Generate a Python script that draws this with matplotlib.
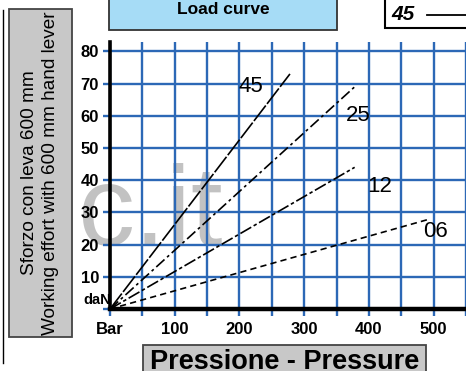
import matplotlib
matplotlib.use("Agg")
import matplotlib.pyplot as plt
from matplotlib.patches import Rectangle
from matplotlib.lines import Line2D

plt.rcParams['font.family'] = ['Liberation Sans', 'DejaVu Sans']
plt.rcParams['lines.scale_dashes'] = False

# ---- data ----
series_names = ["45", "25", "12", "06"]
p45 = [0, 278]; f45 = [0, 73]
p25 = [0, 378]; f25 = [0, 69]
p12 = [0, 378]; f12 = [0, 44]
p06 = [0, 495]; f06 = [0, 28]
label_pos_x = [218, 383, 417, 503]
label_pos_y = [69, 60, 38, 24]
x_ticks = [0, 50, 100, 150, 200, 250, 300, 350, 400, 450, 500, 550]
x_tick_labels = ["Bar", "", "100", "", "200", "", "300", "", "400", "", "500", ""]
y_ticks = [0, 10, 20, 30, 40, 50, 60, 70, 80]
y_tick_labels = ["", "10", "20", "30", "40", "50", "60", "70", "80"]

W, H = 466, 371
def fx(x): return x / W
def fy(y): return 1 - y / H

fig = plt.figure(figsize=(W / 100, H / 100), dpi=100)
ax = fig.add_axes([fx(110), fy(309), (466 - 110) / W, (309 - 42) / H])
ax.set_xlim(0, 356 / 0.65)
ax.set_ylim(0, 267 / 3.22)

blue = '#2c68b6'
ax.set_xticks(x_ticks)
ax.set_xticklabels(x_tick_labels)
ax.set_yticks(y_ticks)
ax.set_yticklabels(y_tick_labels)
ax.grid(True, color=blue, lw=1.7, zorder=1)
ax.set_axisbelow(True)
ax.tick_params(axis='both', color=blue, width=1.7, length=5, labelsize=12)
ax.tick_params(axis='x', pad=4)
ax.tick_params(axis='y', pad=3)
for lab in ax.get_xticklabels() + ax.get_yticklabels():
    lab.set_fontweight('bold')
for s in ['top', 'right']:
    ax.spines[s].set_visible(False)
ax.spines['left'].set_linewidth(2.6)
ax.spines['bottom'].set_linewidth(3.2)
ax.spines['left'].set_zorder(4)
ax.spines['bottom'].set_zorder(4)

# watermark
ax.text(fx(77), fy(245), "c.it", transform=fig.transFigure, fontsize=82,
        color='#a9a9a9', alpha=0.7, ha='left', va='baseline', zorder=0.5,
        clip_on=False)

# curves
ax.plot(p45, f45, color='k', lw=1.2, dashes=(14, 1.5), zorder=3)
ax.plot(p25, f25, color='k', lw=1.2, dashes=(8, 2.5, 2, 2.5), zorder=3)
ax.plot(p12, f12, color='k', lw=1.2, dashes=(9, 2, 2.5, 2), zorder=3)
ax.plot(p06, f06, color='k', lw=1.2, dashes=(4.5, 3), zorder=3)
for name, lx, ly in zip(series_names, label_pos_x, label_pos_y):
    ax.text(lx, ly, name, ha='center', va='center', fontsize=16,
            family=['Liberation Sans Narrow', 'DejaVu Sans Condensed', 'Liberation Sans'],
            zorder=5)

# daN label
ax.text(fx(111), fy(300), "daN", transform=fig.transFigure, ha='right',
        va='center', fontsize=10.5, fontweight='bold', clip_on=False)

# title box
fig.patches.append(Rectangle((fx(109), fy(30)), (337 - 109) / W, 40 / H,
                             transform=fig.transFigure, facecolor='#a6dcf6',
                             edgecolor='#333333', lw=1.3, zorder=5))
fig.text(fx(223), fy(9), "Load curve", ha='center', va='center',
         fontsize=12.5, fontweight='bold', zorder=6)

# legend box
fig.patches.append(Rectangle((fx(385), fy(28)), 90 / W, 40 / H,
                             transform=fig.transFigure, facecolor='white',
                             edgecolor='black', lw=1.5, zorder=5))
fig.text(fx(391), fy(15), series_names[0], ha='left', va='center',
         fontsize=15, fontweight='bold', fontstyle='italic', zorder=6)
fig.lines.append(Line2D([fx(427), fx(470)], [fy(15), fy(15)],
                        transform=fig.transFigure, color='black', lw=1.3, zorder=6))

# y label box
fig.patches.append(Rectangle((fx(9), fy(337)), (72 - 9) / W, (337 - 9) / H,
                             transform=fig.transFigure, facecolor='#c8c8c8',
                             edgecolor='#444444', lw=1.3, zorder=5))
fig.text(fx(30), fy(173), "Sforzo con leva 600 mm", rotation=90,
         ha='center', va='center', fontsize=13.7, zorder=6)
fig.text(fx(51), fy(173), "Working effort with 600 mm hand lever", rotation=90,
         ha='center', va='center', fontsize=13.7, zorder=6)
fig.lines.append(Line2D([fx(2.5), fx(2.5)], [fy(10), fy(363)],
                        transform=fig.transFigure, color='black', lw=1.0))

# x label box
fig.patches.append(Rectangle((fx(143), fy(385)), (426 - 143) / W, 40 / H,
                             transform=fig.transFigure, facecolor='#c8c8c8',
                             edgecolor='#444444', lw=1.3, zorder=5))
fig.text(fx(285), fy(369), "Pressione - Pressure", ha='center', va='baseline',
         fontsize=19.5, fontweight='bold', zorder=6)

fig.savefig("out.png", dpi=100)
